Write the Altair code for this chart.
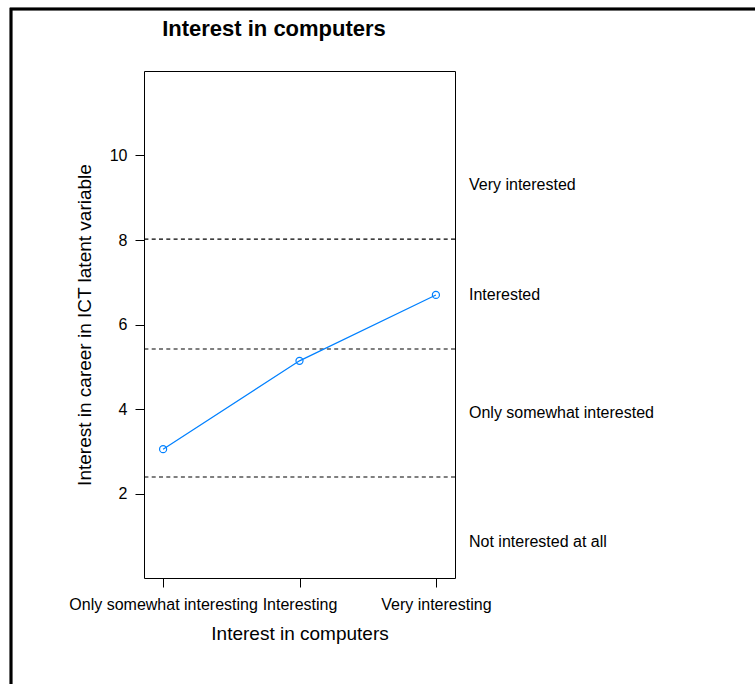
import altair as alt
import pandas as pd

# Mean latent score per level of interest in computers
levels = ["Only somewhat interesting", "Interesting", "Very interesting"]
means = [3.05, 5.14, 6.70]

# Estimated thresholds between the outcome categories
thresholds = [2.39, 5.42, 8.02]

# Outcome category labels and their vertical placement
cat_labels = ["Very interested", "Interested", "Only somewhat interested", "Not interested at all"]
cat_pos = [9.30, 6.70, 3.91, 0.85]

FONT = "Liberation Sans"

pts = pd.DataFrame({"level": levels, "mean": means})
thr = pd.DataFrame({"thr": thresholds})
cats = pd.DataFrame({"label": cat_labels, "pos": cat_pos})

x_enc = alt.X(
    "level:N",
    sort=levels,
    scale=alt.Scale(type="point", padding=0.14),
    axis=alt.Axis(
        title="Interest in computers",
        labelAngle=0,
        labelFontSize=16,
        labelLimit=400,
        titleFontSize=19,
        titleFontWeight="normal",
        labelPadding=9,
        tickSize=9,
        titlePadding=12,
        domain=False,
        tickColor="#000",
        labelColor="#000",
        titleColor="#000",
    ),
)
y_scale = alt.Scale(domain=[0, 12], nice=False, zero=False)
y_enc = alt.Y(
    "mean:Q",
    scale=y_scale,
    axis=alt.Axis(
        title="Interest in career in ICT latent variable",
        values=[2, 4, 6, 8, 10],
        grid=False,
        domain=False,
        tickSize=9,
        labelFontSize=16,
        titleFontSize=19,
        titleFontWeight="normal",
        labelPadding=8,
        titlePadding=15,
        tickColor="#000",
        labelColor="#000",
        titleColor="#000",
    ),
)

line = alt.Chart(pts).mark_line(color="#0080ff", strokeWidth=1.2).encode(x=x_enc, y=y_enc)
dots = alt.Chart(pts).mark_point(
    shape="circle", filled=False, color="#0080ff", size=50, strokeWidth=1.2, opacity=1
).encode(x=x_enc, y=y_enc)

rules = alt.Chart(thr).mark_rule(color="#000", strokeWidth=1.2, strokeDash=[4, 3.3]).encode(
    y=alt.Y("thr:Q", scale=y_scale)
)

labels = alt.Chart(cats).mark_text(
    align="left", baseline="middle", fontSize=16, font=FONT, color="#000"
).encode(x=alt.value(325), y=alt.Y("pos:Q", scale=y_scale), text="label:N")

# Figure heading, drawn as a text mark above the panel
heading = alt.Chart(pd.DataFrame({"t": ["Interest in computers"]})).mark_text(
    align="center", baseline="middle", fontSize=22, fontWeight="bold", font=FONT, color="#000"
).encode(x=alt.value(130), y=alt.value(-42), text="t:N")

# Outer frame around the figure
frame = alt.Chart(pts).mark_rect(
    fill=None, stroke="#000", strokeWidth=2.5
).encode(
    x=alt.value(-133), x2=alt.value(700), y=alt.value(-62), y2=alt.value(700)
)

chart = (
    alt.layer(frame, rules, line, dots, labels, heading)
    .properties(
        width=311,
        height=507,
        background="white",
        autosize=alt.AutoSizeParams(type="none"),
        padding={"left": 144, "top": 71, "right": 300, "bottom": 106},
    )
    .configure_view(stroke="#000", strokeWidth=1)
    .configure_axis(labelFont=FONT, titleFont=FONT)
)

chart.save("out.html", embed_options={"renderer": "svg", "actions": False})
